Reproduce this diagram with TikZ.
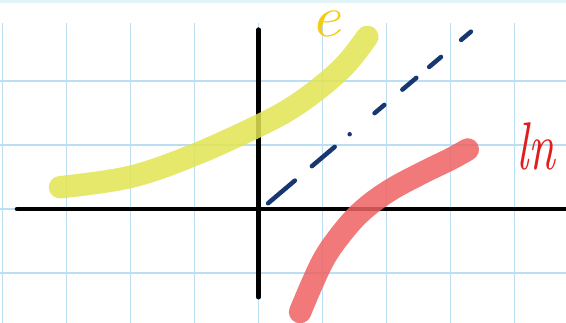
\documentclass[tikz,border=0pt]{standalone}
\usetikzlibrary{positioning}
\definecolor{gridblue}{RGB}{188,222,242}
\definecolor{topband}{RGB}{226,244,248}
\definecolor{expyellow}{RGB}{226,228,82}
\definecolor{lnred}{RGB}{238,98,98}
\definecolor{penyellow}{RGB}{244,204,18}
\definecolor{penred}{RGB}{226,28,28}
\definecolor{idblue}{RGB}{24,54,112}

\begin{document}
\begin{tikzpicture}[
	axis/.style={line width=2.2pt, line cap=round},
	marker/.style={line width=10pt, line cap=round, opacity=0.85},
	handtext/.style={inner sep=0pt, font=\fontsize{30}{30}\selectfont\itshape}
	]
	\useasboundingbox (-4.039,-1.781) rectangle (4.805,3.266);
	\fill[topband] (-4.039,3.22) rectangle (4.805,3.266);
	
	% squared paper
	\foreach \x in {-4,...,4}
	\draw[gridblue, line width=0.7pt] (\x,-1.781) -- (\x,2.9);
	\foreach \y in {-1,0,1,2}
	\draw[gridblue, line width=0.7pt] (-4.039,\y) -- (4.805,\y);
	
	% axes
	\coordinate (xstart) at (-3.77,0);
	\coordinate (xend) at (4.9,0);
	\coordinate (ytop) at (0,2.80);
	\coordinate (ybot) at (0,-1.375);
	\draw[axis] (xstart) -- (xend);
	\draw[axis] (ybot) -- (ytop);
	
	% y = x, hand dashed
	\coordinate (idstart) at (0.15,0.09);
	\coordinate (idend) at (3.33,2.78);
	\draw[idblue, line width=2pt, line cap=round,
	dash pattern=on 15.6pt off 9.9pt on 13.3pt off 8.7pt on 0pt off 14.5pt on 5.7pt off 10.5pt on 8.1pt off 7.5pt on 6.9pt off 11.7pt on 5.7pt off 20pt]
	(idstart) -- (idend);
	
	% e^x and ln x
	\draw[marker, expyellow] plot[smooth, tension=0.6] coordinates
	{(-3.10,0.34) (-2.01,0.50) (-1.02,0.84) (0,1.30) (0.55,1.60) (1.05,1.97) (1.40,2.30) (1.70,2.69)};
	\draw[marker, lnred] plot[smooth, tension=0.6] coordinates
	{(0.65,-1.61) (0.99,-0.84) (1.30,-0.38) (1.63,-0.02) (2.05,0.29) (2.55,0.56) (3.00,0.78) (3.27,0.93)};
	
	\node[handtext, penyellow, anchor=base, font=\fontsize{26}{26}\selectfont\itshape] (elabel) at (1.05,2.70) {\scalebox{1.15}[1]{e}};
	\node[handtext, penred, anchor=base west] (lnlabel) at (4.02,0.61) {\scalebox{0.72}[1]{ln}};
\end{tikzpicture}
\end{document}
